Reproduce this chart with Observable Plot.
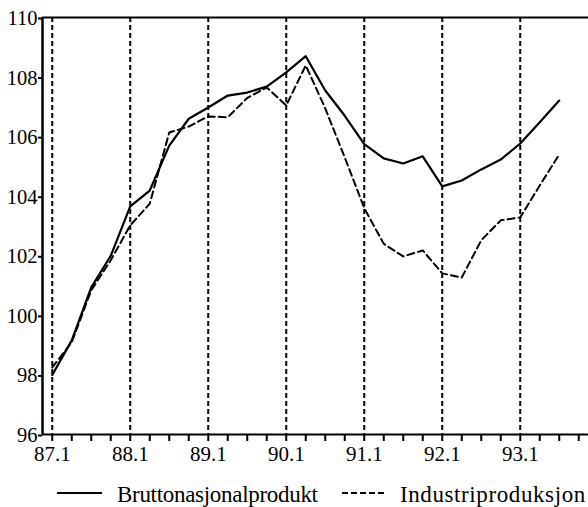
<!DOCTYPE html>
<html>
<head>
<meta charset="utf-8">
<script src="https://cdn.jsdelivr.net/npm/d3@7"></script>
<script src="https://cdn.jsdelivr.net/npm/@observablehq/plot@0.6"></script>
<style>
  body { margin: 0; background: #fff; font-family: "Liberation Serif", "Times New Roman", serif; }
  #chart svg { display: block; }
  .legend { position: relative; width: 588px; height: 37px; font-size: 23px; color: #000; }
  .legend svg { position: absolute; left: 0; top: 0; }
  .legend span { position: absolute; white-space: nowrap; line-height: 1; }
</style>
</head>
<body>
<div id="chart"></div>
<div class="legend">
  <svg width="588" height="37">
    <line x1="57" x2="102" y1="23" y2="23" stroke="#000" stroke-width="2"></line>
    <line x1="342" x2="384" y1="23" y2="23" stroke="#000" stroke-width="2" stroke-dasharray="6,3"></line>
  </svg>
  <span style="left:117px; top:13px; letter-spacing:-0.3px;">Bruttonasjonalprodukt</span>
  <span style="left:400px; top:13px; letter-spacing:0.6px;">Industriproduksjon</span>
</div>
<script>
// Quarterly index values, 1987 Q1 – 1993 Q3
const quarters = [
  "87.1","87.2","87.3","87.4",
  "88.1","88.2","88.3","88.4",
  "89.1","89.2","89.3","89.4",
  "90.1","90.2","90.3","90.4",
  "91.1","91.2","91.3","91.4",
  "92.1","92.2","92.3","92.4",
  "93.1","93.2","93.3"
];

// Bruttonasjonalprodukt (solid line)
const bnp = [
  98.0, 99.16, 100.94, 102.0,
  103.66, 104.19, 105.7, 106.6,
  106.98, 107.38, 107.48, 107.68,
  108.16, 108.7, 107.55, 106.7,
  105.75, 105.27, 105.1, 105.34,
  104.33, 104.53, 104.9, 105.23,
  105.77, 106.48, 107.21
];

// Industriproduksjon (dashed line)
const ind = [
  98.25, 99.1, 100.84, 101.85,
  103.02, 103.75, 106.14, 106.34,
  106.68, 106.65, 107.3, 107.65,
  107.05, 108.39, 106.95, 105.3,
  103.6, 102.4, 101.98, 102.18,
  101.41, 101.27, 102.52, 103.19,
  103.29, 104.36, 105.4
];

// Year labels on the first quarter of each year
const yearLabels = ["87.1","88.1","89.1","90.1","91.1","92.1","93.1"];
const yTicks = [96, 98, 100, 102, 104, 106, 108, 110];

const data = quarters.map((q, i) => ({ i, q, bnp: bnp[i], ind: ind[i] }));
const yearStarts = yearLabels.map(l => quarters.indexOf(l));

const chart = Plot.plot({
  width: 588,
  height: 470,
  marginTop: 17,
  marginBottom: 36,
  marginLeft: 42,
  marginRight: 0,
  style: { fontFamily: "'Liberation Serif', 'Times New Roman', serif", fontSize: "20px", color: "#000", background: "#fff" },
  x: { domain: [-0.5, 27.5] },
  y: { domain: [96, 110] },
  marks: [
    Plot.ruleX(yearStarts, { stroke: "#000", strokeWidth: 2, strokeDasharray: "5,3" }),
    Plot.line(data, { x: "i", y: "ind", stroke: "#000", strokeWidth: 2, strokeDasharray: "7,4" }),
    Plot.line(data, { x: "i", y: "bnp", stroke: "#000", strokeWidth: 2.2 }),
    Plot.ruleY([110], { stroke: "#000", strokeWidth: 2 }),
    Plot.ruleY([96], { stroke: "#000", strokeWidth: 2 }),
    Plot.ruleX([-0.5], { stroke: "#000", strokeWidth: 2.5 }),
    Plot.axisY({ ticks: yTicks, tickSize: 4, tickPadding: 1, fontSize: 20.5, strokeWidth: 2, label: null, dy: 1 }),
    Plot.axisX({
      ticks: d3.range(0, 28),
      tickSize: 7,
      tickPadding: 5,
      fontSize: 21,
      strokeWidth: 2,
      label: null,
      tickFormat: i => (i % 4 === 0 && yearLabels[i / 4]) ? yearLabels[i / 4] : ""
    })
  ]
});

document.getElementById("chart").appendChild(chart);
</script>
</body>
</html>
